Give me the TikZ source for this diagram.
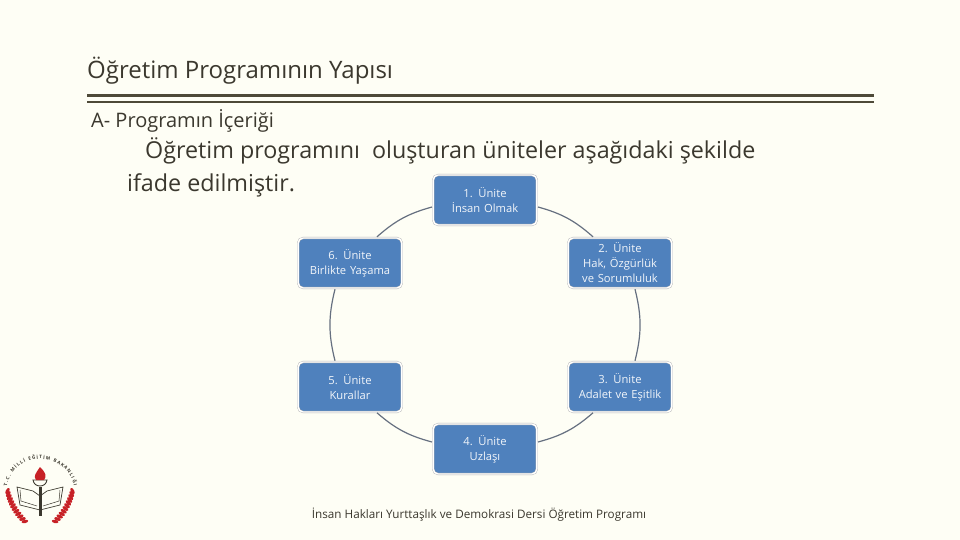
\documentclass[tikz,border=0pt]{standalone}
\usepackage{fontspec}
\setmainfont{Open Sans}
\usetikzlibrary{decorations.text}
\definecolor{PageClr}{rgb}{0.996,0.996,0.961}
\definecolor{RuleClr}{rgb}{0.306,0.290,0.220}
\definecolor{InkClr}{rgb}{0.23,0.22,0.18}
\definecolor{UnitClr}{rgb}{0.310,0.506,0.741}
\definecolor{LinkClr}{rgb}{0.40,0.44,0.50}
\definecolor{LogoClr}{rgb}{0.78,0.13,0.15}
\tikzset{
  unitbox/.style={rectangle,rounded corners=5pt,fill=UnitClr,draw=black!30,line width=.4pt,
    double=white,double distance=1.4pt,
    minimum width=99pt,minimum height=50pt,text width=97pt,align=center,text=white!92!UnitClr,
    font=\fontsize{11.2}{15}\selectfont},
  unitlink/.style={draw=LinkClr,line width=1.2pt},
  plaintext/.style={anchor=base west,inner sep=0pt,text=InkClr},
}

\begin{document}
\begin{tikzpicture}[x=1pt,y=-1pt]
\useasboundingbox[fill=PageClr] (0,0) rectangle (960,540);

% heading
\node[plaintext,font=\fontsize{24}{28}\selectfont] (title) at (87,79) {Öğretim Programının Yapısı};
\coordinate (ruleL) at (87,95.5);
\coordinate (ruleR) at (874,95.5);
\coordinate (ruleLb) at (87,102);
\coordinate (ruleRb) at (874,102);
\draw[RuleClr,line width=3.5pt] (ruleL) -- (ruleR);
\draw[RuleClr,line width=1.8pt] (ruleLb) -- (ruleRb);

\node[plaintext,font=\fontsize{20}{24}\selectfont] (sub) at (91,128) {A- Programın İçeriği};
\node[plaintext,font=\fontsize{23.3}{28}\selectfont] (bodyA) at (145,159) {Öğretim programını\ \ oluşturan üniteler aşağıdaki şekilde};
\node[plaintext,font=\fontsize{23.3}{28}\selectfont] (bodyB) at (127,191) {ifade edilmiştir.};

% units
\node[unitbox] (U1) at (485,200) {1. Ünite\\İnsan Olmak};
\node[unitbox] (U2) at (620,263) {2. Ünite\\Hak, Özgürlük\\ve Sorumluluk};
\node[unitbox] (U3) at (620,387) {3. Ünite\\Adalet ve Eşitlik};
\node[unitbox] (U4) at (485,449) {4. Ünite\\Uzlaşı};
\node[unitbox] (U5) at (350,387) {5. Ünite\\Kurallar};
\node[unitbox] (U6) at (350,263) {6. Ünite\\Birlikte Yaşama};

\path (U1.east) ++(1,7) coordinate (a1) (U2.north) ++(-27,-1) coordinate (b1);
\path (U2.south) ++(15,1) coordinate (a2) (U3.north) ++(15,-1) coordinate (b2);
\path (U3.north) ++(-27,51) coordinate (a3) (U4.east) ++(1,-7) coordinate (b3);
\path (U4.west) ++(-1,-7) coordinate (a4) (U5.north) ++(27,51) coordinate (b4);
\path (U5.north) ++(-15,-1) coordinate (a5) (U6.south) ++(-15,1) coordinate (b5);
\path (U6.north) ++(27,-1) coordinate (a6) (U1.west) ++(-1,7) coordinate (b6);
\draw[unitlink] (a1) to[bend left=13] (b1);
\draw[unitlink] (a2) to[bend left=14] (b2);
\draw[unitlink] (a3) to[bend left=13] (b3);
\draw[unitlink] (a4) to[bend left=13] (b4);
\draw[unitlink] (a5) to[bend left=14] (b5);
\draw[unitlink] (a6) to[bend left=13] (b6);

\node[anchor=base,inner sep=0pt,text=InkClr,font=\fontsize{11.7}{14}\selectfont] (foot) at (479,518) {İnsan Hakları Yurttaşlık ve Demokrasi Dersi Öğretim Programı};

% logo
\path[decorate,decoration={text along path,text align=fit to path,
  text={|\fontsize{4.6}{5}\selectfont\bfseries\color{InkClr}|T.C. MİLLİ EĞİTİM BAKANLIĞI}}]
  (7,486) .. controls (14,450) and (66,450) .. (74,486);
\foreach \s in {1,-1}{
  \begin{scope}[shift={(40,0)},xscale=\s]
  \draw[InkClr,line width=.7pt] (0,510) -- (-20,505) -- (-23,487) -- (-7,491) -- (0,496);
  \draw[InkClr,line width=.5pt] (-3,506) -- (-19,501) -- (-20,490);
  \foreach \k in {0,...,11}
    \fill[LogoClr,rotate around={62-4.5*\k:({-32.5+\k*0.7+\k*\k*0.08},{491+\k*3.1-\k*\k*0.03})}]
      ({-32.5+\k*0.7+\k*\k*0.08},{491+\k*3.1-\k*\k*0.03}) ellipse (3.4pt and 1.7pt);
  \end{scope}
}
\fill[InkClr] (38.5,487) rectangle (41.5,516);
\draw[InkClr,fill=PageClr,line width=.9pt] (33,480) .. controls (34,488) and (46,488) .. (47,480) -- cycle;
\fill[LogoClr] (40,467) .. controls (46,473) and (47,476) .. (44,480) -- (36,480)
  .. controls (33,476) and (36,473) .. (40,467);
\end{tikzpicture}
\end{document}
